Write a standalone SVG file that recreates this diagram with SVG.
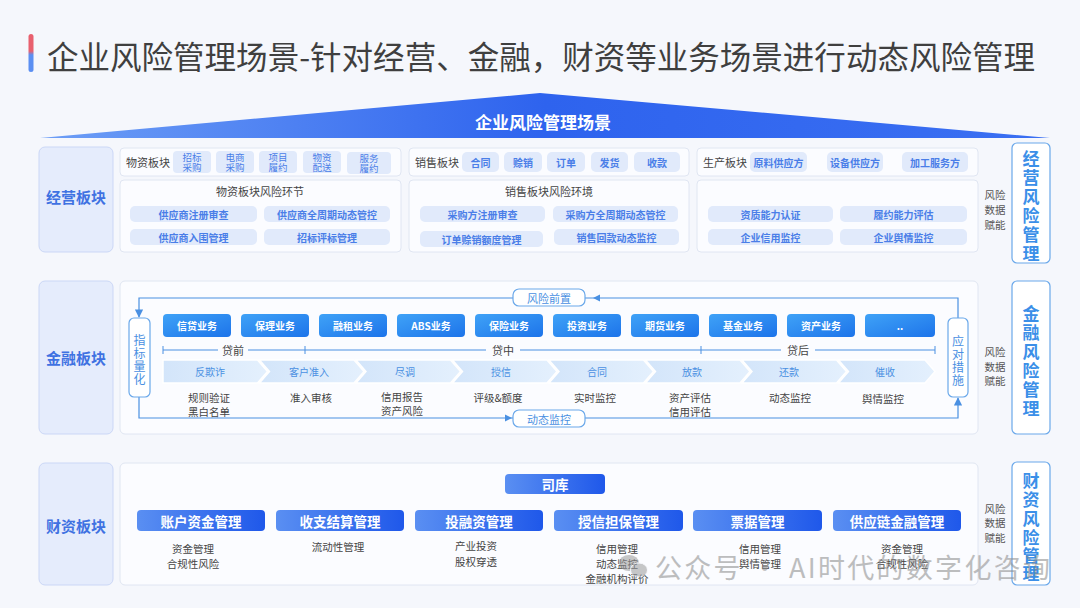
<svg xmlns="http://www.w3.org/2000/svg" width="1080" height="608" viewBox="0 0 1080 608">
<defs>
<linearGradient id="gBar" x1="0" y1="0" x2="0" y2="1"><stop offset="0" stop-color="#e8606e"/><stop offset="0.45" stop-color="#e8606e"/><stop offset="0.55" stop-color="#5b8ff2"/><stop offset="1" stop-color="#5b8ff2"/></linearGradient>
<linearGradient id="gBanner" x1="0" y1="0" x2="1" y2="0"><stop offset="0" stop-color="#6d9ef6"/><stop offset="0.5" stop-color="#2e63ee"/><stop offset="1" stop-color="#3a6ff2"/></linearGradient>
<linearGradient id="gBiz" x1="0" y1="0" x2="1" y2="1"><stop offset="0" stop-color="#3fa2f7"/><stop offset="1" stop-color="#1d74ea"/></linearGradient>
<linearGradient id="gFin" x1="0" y1="0" x2="1" y2="0"><stop offset="0" stop-color="#5a8ff2"/><stop offset="1" stop-color="#1f58ea"/></linearGradient>
<linearGradient id="gChev" x1="0" y1="0" x2="1" y2="0"><stop offset="0" stop-color="#d3e5fa"/><stop offset="1" stop-color="#e4f0fd"/></linearGradient>
<marker id="arr" viewBox="0 0 10 10" refX="9" refY="5" markerWidth="7" markerHeight="7" orient="auto"><path d="M0,0 L10,5 L0,10 Z" fill="#4a90e2"/></marker>
<style>
text{font-family:"Noto Sans CJK SC","Noto Sans",sans-serif;}
.panel{fill:#fbfcff;stroke:#e0e6f2;stroke-width:1;}
.side{fill:#e5ecfc;stroke:#cbd7f6;stroke-width:1;}
.sideT{font-size:15px;font-weight:bold;fill:#3f72e2;text-anchor:middle;dominant-baseline:central;}
.rbox{fill:#ffffff;stroke:#6aa8ea;stroke-width:1.2;}
.rT{font-size:17px;font-weight:bold;fill:#3b8fe8;text-anchor:middle;dominant-baseline:central;}
.cap{font-size:11px;fill:#444;dominant-baseline:central;}
.capc{font-size:11px;fill:#444;text-anchor:middle;dominant-baseline:central;}
.tag{fill:#e1eafb;}
.tagT{font-size:10px;fill:#4a7ee8;text-anchor:middle;dominant-baseline:central;font-weight:bold;}
.tagS{font-size:9.5px;fill:#4a7ee8;text-anchor:middle;dominant-baseline:central;}
.riskT{font-size:10px;fill:#4a7ee8;text-anchor:middle;dominant-baseline:central;font-weight:bold;}
.biz{fill:url(#gBiz);}
.bizT{font-size:10px;fill:#fff;font-weight:bold;text-anchor:middle;dominant-baseline:central;}
.chev{fill:url(#gChev);stroke:#ffffff;stroke-width:1.5;}
.chevT{font-size:10px;fill:#4a90e2;text-anchor:middle;dominant-baseline:central;}
.desc{font-size:10.5px;fill:#444;text-anchor:middle;dominant-baseline:central;}
.pill{fill:#fff;stroke:#6aa8ea;stroke-width:1.2;}
.pillT{font-size:11px;fill:#4a90e2;text-anchor:middle;dominant-baseline:central;}
.vT{font-size:12px;fill:#4a90e2;text-anchor:middle;dominant-baseline:central;}
.loop{fill:none;stroke:#4a90e2;stroke-width:1.2;}
.fin{fill:url(#gFin);}
.finT{font-size:13.5px;fill:#fff;font-weight:bold;text-anchor:middle;dominant-baseline:central;}
.tree{fill:none;stroke:#c8d0ef;stroke-width:1;}
.eT{font-size:10.5px;fill:#555;text-anchor:middle;dominant-baseline:central;}
.phase{font-size:11px;fill:#444;text-anchor:middle;dominant-baseline:central;}
</style>
</defs>
<rect width="1080" height="608" fill="#f5f7fc"/>

<g id="title">
<rect x="28.5" y="34" width="5" height="38" rx="2.5" fill="url(#gBar)"/>
<text x="47" y="55" font-size="31.5" fill="#3f3f3f" dominant-baseline="central" textLength="988" lengthAdjust="spacingAndGlyphs">企业风险管理场景-针对经营、金融，财资等业务场景进行动态风险管理</text>
</g>

<g id="banner">
<path d="M40,138 L540,93 L1050,138 Z" fill="url(#gBanner)"/>
<text x="543" y="121" font-size="17" font-weight="bold" fill="#fff" text-anchor="middle" dominant-baseline="central">企业风险管理场景</text>
</g>

<!-- Row 1 -->
<g id="jy-label"><rect class="side" x="39" y="147" width="74" height="105" rx="6"/><text class="sideT" x="76" y="196">经营板块</text></g>

<g id="wuzi-top">
<rect class="panel" x="120" y="148" width="281" height="28" rx="4"/>
<text class="cap" x="126" y="162">物资板块</text>
<rect class="tag" x="173" y="151" width="38" height="22" rx="4"/><text class="tagS" x="192" y="157">招标</text><text class="tagS" x="192" y="167">采购</text>
<rect class="tag" x="216" y="151" width="38" height="22" rx="4"/><text class="tagS" x="235" y="157">电商</text><text class="tagS" x="235" y="167">采购</text>
<rect class="tag" x="259" y="151" width="38" height="22" rx="4"/><text class="tagS" x="278" y="157">项目</text><text class="tagS" x="278" y="167">履约</text>
<rect class="tag" x="303" y="151" width="38" height="22" rx="4"/><text class="tagS" x="322" y="157">物资</text><text class="tagS" x="322" y="167">配送</text>
<rect class="tag" x="347" y="152" width="44" height="22" rx="4"/><text class="tagS" x="369" y="158">服务</text><text class="tagS" x="369" y="168">履约</text>
</g>
<g id="xs-top">
<rect class="panel" x="409" y="148" width="280" height="28" rx="4"/>
<text class="cap" x="415" y="162">销售板块</text>
<rect class="tag" x="462" y="152" width="37" height="20" rx="5"/><text class="tagT" x="480.5" y="162">合同</text>
<rect class="tag" x="504" y="152" width="38" height="20" rx="5"/><text class="tagT" x="523" y="162">赊销</text>
<rect class="tag" x="547" y="152" width="38" height="20" rx="5"/><text class="tagT" x="566" y="162">订单</text>
<rect class="tag" x="591" y="152" width="37" height="20" rx="5"/><text class="tagT" x="609.5" y="162">发货</text>
<rect class="tag" x="634" y="152" width="46" height="20" rx="5"/><text class="tagT" x="657" y="162">收款</text>
</g>
<g id="sc-top">
<rect class="panel" x="697" y="148" width="281" height="28" rx="4"/>
<text class="cap" x="703" y="162">生产板块</text>
<rect class="tag" x="750" y="152" width="57" height="20" rx="5"/><text class="tagT" x="778.5" y="162">原料供应方</text>
<rect class="tag" x="827" y="152" width="56" height="20" rx="5"/><text class="tagT" x="855" y="162">设备供应方</text>
<rect class="tag" x="902" y="152" width="66" height="20" rx="5"/><text class="tagT" x="935" y="162">加工服务方</text>
</g>

<g id="wuzi-risk">
<rect class="panel" x="120" y="180" width="281" height="72" rx="4"/>
<text class="capc" x="260" y="191">物资板块风险环节</text>
<rect class="tag" x="130" y="206" width="127" height="16" rx="5"/><text class="riskT" x="193.5" y="214">供应商注册审查</text>
<rect class="tag" x="264" y="206" width="126" height="16" rx="5"/><text class="riskT" x="327" y="214">供应商全周期动态管控</text>
<rect class="tag" x="130" y="229" width="127" height="16" rx="5"/><text class="riskT" x="193.5" y="237">供应商入围管理</text>
<rect class="tag" x="264" y="229" width="126" height="16" rx="5"/><text class="riskT" x="327" y="237">招标评标管理</text>
</g>
<g id="xs-risk">
<rect class="panel" x="409" y="180" width="280" height="72" rx="4"/>
<text class="capc" x="549" y="191">销售板块风险环境</text>
<rect class="tag" x="420" y="206" width="125" height="16" rx="5"/><text class="riskT" x="482.5" y="214">采购方注册审查</text>
<rect class="tag" x="553" y="206" width="125" height="16" rx="5"/><text class="riskT" x="615.5" y="214">采购方全周期动态管控</text>
<rect class="tag" x="420" y="231" width="123" height="16" rx="5"/><text class="riskT" x="481.5" y="239">订单赊销额度管理</text>
<rect class="tag" x="554" y="229" width="125" height="16" rx="5"/><text class="riskT" x="616.5" y="237">销售回款动态监控</text>
</g>
<g id="sc-risk">
<rect class="panel" x="697" y="180" width="281" height="72" rx="4"/>
<rect class="tag" x="708" y="206" width="125" height="16" rx="5"/><text class="riskT" x="770.5" y="214">资质能力认证</text>
<rect class="tag" x="840" y="206" width="127" height="16" rx="5"/><text class="riskT" x="903.5" y="214">履约能力评估</text>
<rect class="tag" x="708" y="229" width="125" height="16" rx="5"/><text class="riskT" x="770.5" y="237">企业信用监控</text>
<rect class="tag" x="840" y="229" width="127" height="16" rx="5"/><text class="riskT" x="903.5" y="237">企业舆情监控</text>
</g>
<g id="jy-enable"><text class="eT" x="995" y="194">风险</text><text class="eT" x="995" y="209">数据</text><text class="eT" x="995" y="224">赋能</text></g>
<g id="jy-right">
<rect class="rbox" x="1012" y="143" width="38" height="120" rx="5"/>
<text class="rT" x="1031" y="157">经</text><text class="rT" x="1031" y="176">营</text><text class="rT" x="1031" y="195">风</text><text class="rT" x="1031" y="214">险</text><text class="rT" x="1031" y="233">管</text><text class="rT" x="1031" y="252">理</text>
</g>

<!-- Row 2 -->
<g id="jr-label"><rect class="side" x="39" y="281" width="74" height="153" rx="6"/><text class="sideT" x="76" y="357">金融板块</text></g>
<g id="jr-panel"><rect class="panel" x="120" y="281" width="858" height="153" rx="5"/></g>

<g id="connectors">
<path class="loop" d="M958,318 V298 H139 V317" marker-end="url(#arr)"/>
<path class="loop" d="M139,397 V418 H958 V398" marker-end="url(#arr)"/>
<path d="M593,298 L600,294.5 L600,301.5 Z" fill="#4a90e2"/>
<path d="M512,418 L505,414.5 L505,421.5 Z" fill="#4a90e2"/>
<path class="tree" d="M549,494 V503 M222,503 H864 M222,503 V510 M350,503 V510 M479,503 V510 M607,503 V510 M736,503 V510 M864,503 V510"/>
</g>

<g id="risk-front"><rect class="pill" x="513" y="289" width="72" height="17" rx="6"/><text class="pillT" x="549" y="297.5">风险前置</text></g>
<g id="dyn-monitor"><rect class="pill" x="513" y="410" width="72" height="17" rx="6"/><text class="pillT" x="549" y="418.5">动态监控</text></g>
<g id="indicator"><rect class="pill" x="129" y="318" width="21" height="79" rx="5"/><text class="vT" x="139.5" y="339">指</text><text class="vT" x="139.5" y="352">标</text><text class="vT" x="139.5" y="365">量</text><text class="vT" x="139.5" y="378">化</text></g>
<g id="response"><rect class="pill" x="948" y="318" width="20" height="79" rx="5"/><text class="vT" x="958" y="340">应</text><text class="vT" x="958" y="353">对</text><text class="vT" x="958" y="366">措</text><text class="vT" x="958" y="379">施</text></g>

<g id="biz-row">
<rect class="biz" x="163" y="314" width="68" height="23" rx="4"/><text class="bizT" x="197" y="325.5">信贷业务</text>
<rect class="biz" x="241" y="314" width="68" height="23" rx="4"/><text class="bizT" x="275" y="325.5">保理业务</text>
<rect class="biz" x="319" y="314" width="68" height="23" rx="4"/><text class="bizT" x="353" y="325.5">融租业务</text>
<rect class="biz" x="397" y="314" width="68" height="23" rx="4"/><text class="bizT" x="431" y="325.5">ABS业务</text>
<rect class="biz" x="475" y="314" width="68" height="23" rx="4"/><text class="bizT" x="509" y="325.5">保险业务</text>
<rect class="biz" x="553" y="314" width="68" height="23" rx="4"/><text class="bizT" x="587" y="325.5">投资业务</text>
<rect class="biz" x="631" y="314" width="68" height="23" rx="4"/><text class="bizT" x="665" y="325.5">期货业务</text>
<rect class="biz" x="709" y="314" width="68" height="23" rx="4"/><text class="bizT" x="743" y="325.5">基金业务</text>
<rect class="biz" x="787" y="314" width="68" height="23" rx="4"/><text class="bizT" x="821" y="325.5">资产业务</text>
<rect class="biz" x="865" y="314" width="70" height="23" rx="4"/><text class="bizT" x="900" y="325.5">..</text>
</g>

<g id="timeline">
<path d="M163,350 H935 M163,346 V354 M305,346 V354 M701,346 V354 M935,346 V354" stroke="#4a90e2" stroke-width="1" fill="none"/>
<rect x="218" y="343" width="30" height="14" fill="#fbfcff"/><text class="phase" x="233" y="350">贷前</text>
<rect x="486" y="343" width="34" height="14" fill="#fbfcff"/><text class="phase" x="503" y="350">贷中</text>
<rect x="781" y="343" width="34" height="14" fill="#fbfcff"/><text class="phase" x="798" y="350">贷后</text>
</g>

<g id="chevrons">
<path class="chev" d="M163,360 H257.5 L267.5,371.5 L257.5,383 H163 Z"/><text class="chevT" x="210" y="371.5">反欺诈</text>
<path class="chev" d="M259.5,360 H354 L364,371.5 L354,383 H259.5 L269.5,371.5 Z"/><text class="chevT" x="309" y="371.5">客户准入</text>
<path class="chev" d="M356,360 H450.5 L460.5,371.5 L450.5,383 H356 L366,371.5 Z"/><text class="chevT" x="405" y="371.5">尽调</text>
<path class="chev" d="M452.5,360 H547 L557,371.5 L547,383 H452.5 L462.5,371.5 Z"/><text class="chevT" x="501" y="371.5">授信</text>
<path class="chev" d="M549,360 H643.5 L653.5,371.5 L643.5,383 H549 L559,371.5 Z"/><text class="chevT" x="597" y="371.5">合同</text>
<path class="chev" d="M645.5,360 H740 L750,371.5 L740,383 H645.5 L655.5,371.5 Z"/><text class="chevT" x="692" y="371.5">放款</text>
<path class="chev" d="M742,360 H836.5 L846.5,371.5 L836.5,383 H742 L752,371.5 Z"/><text class="chevT" x="789" y="371.5">还款</text>
<path class="chev" d="M838.5,360 H925 L935,371.5 L925,383 H838.5 L848.5,371.5 Z"/><text class="chevT" x="885" y="371.5">催收</text>
</g>

<g id="chev-desc">
<text class="desc" x="209" y="397">规则验证</text><text class="desc" x="209" y="411">黑白名单</text>
<text class="desc" x="311" y="397">准入审核</text>
<text class="desc" x="402" y="396">信用报告</text><text class="desc" x="402" y="410">资产风险</text>
<text class="desc" x="498" y="397">评级&amp;额度</text>
<text class="desc" x="595" y="397">实时监控</text>
<text class="desc" x="690" y="397">资产评估</text><text class="desc" x="690" y="411">信用评估</text>
<text class="desc" x="790" y="397">动态监控</text>
<text class="desc" x="883" y="398">舆情监控</text>
</g>
<g id="jr-enable"><text class="eT" x="995" y="351">风险</text><text class="eT" x="995" y="366">数据</text><text class="eT" x="995" y="380">赋能</text></g>
<g id="jr-right">
<rect class="rbox" x="1012" y="281" width="38" height="153" rx="5"/>
<text class="rT" x="1031" y="312">金</text><text class="rT" x="1031" y="331">融</text><text class="rT" x="1031" y="350">风</text><text class="rT" x="1031" y="369">险</text><text class="rT" x="1031" y="388">管</text><text class="rT" x="1031" y="407">理</text>
</g>

<!-- Row 3 -->
<g id="cz-label"><rect class="side" x="39" y="463" width="74" height="122" rx="6"/><text class="sideT" x="76" y="525">财资板块</text></g>
<g id="cz-panel"><rect class="panel" x="120" y="463" width="858" height="122" rx="5"/></g>
<g id="siku"><rect class="fin" x="505" y="474" width="100" height="20" rx="4"/><text class="finT" x="555" y="484">司库</text></g>
<g id="fin-1"><rect class="fin" x="137" y="510" width="128" height="21" rx="4"/><text class="finT" x="201" y="520.5">账户资金管理</text><text class="desc" x="193" y="548">资金管理</text><text class="desc" x="193" y="563">合规性风险</text></g>
<g id="fin-2"><rect class="fin" x="276" y="510" width="128" height="21" rx="4"/><text class="finT" x="340" y="520.5">收支结算管理</text><text class="desc" x="338" y="546">流动性管理</text></g>
<g id="fin-3"><rect class="fin" x="415" y="510" width="128" height="21" rx="4"/><text class="finT" x="479" y="520.5">投融资管理</text><text class="desc" x="476" y="545">产业投资</text><text class="desc" x="476" y="561">股权穿透</text></g>
<g id="fin-4"><rect class="fin" x="554" y="510" width="129" height="21" rx="4"/><text class="finT" x="618.5" y="520.5">授信担保管理</text><text class="desc" x="617" y="548">信用管理</text><text class="desc" x="617" y="563">动态监控</text><text class="desc" x="617" y="578">金融机构评价</text></g>
<g id="fin-5"><rect class="fin" x="693" y="510" width="129" height="21" rx="4"/><text class="finT" x="757.5" y="520.5">票据管理</text><text class="desc" x="760" y="548">信用管理</text><text class="desc" x="760" y="563">舆情管理</text></g>
<g id="fin-6"><rect class="fin" x="833" y="510" width="128" height="21" rx="4"/><text class="finT" x="897" y="520.5">供应链金融管理</text><text class="desc" x="902" y="548">资金管理</text><text class="desc" x="902" y="563">合规性风险</text></g>
<g id="cz-enable"><text class="eT" x="995" y="508">风险</text><text class="eT" x="995" y="522">数据</text><text class="eT" x="995" y="537">赋能</text></g>
<g id="cz-right">
<rect class="rbox" x="1012" y="462" width="38" height="123" rx="5"/>
<text class="rT" x="1031" y="479">财</text><text class="rT" x="1031" y="498">资</text><text class="rT" x="1031" y="517">风</text><text class="rT" x="1031" y="536">险</text><text class="rT" x="1031" y="554">管</text><text class="rT" x="1031" y="572">理</text>
</g>

<g id="watermark" opacity="0.55">
<ellipse cx="629" cy="563" rx="10" ry="8" fill="#9a9a9a"/>
<ellipse cx="639" cy="570" rx="8.5" ry="7" fill="#9a9a9a" stroke="#f5f7fc" stroke-width="1"/>
<text x="655" y="566" font-size="27" fill="#8a8a8a" dominant-baseline="central" textLength="395" lengthAdjust="spacing">公众号 · AI时代的数字化咨询</text>
</g>
</svg>
